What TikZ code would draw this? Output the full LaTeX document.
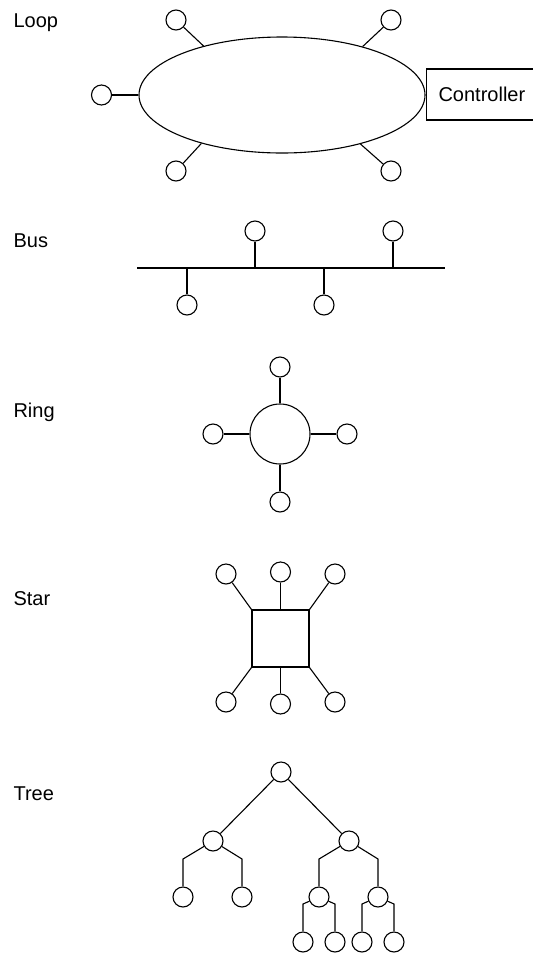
\documentclass[tikz,border=0pt]{standalone}
\usepackage{fontspec}
\setmainfont{Liberation Sans}
\usetikzlibrary{shapes.geometric}
\begin{document}
\begin{tikzpicture}[x=1pt,y=-1pt,
  every path/.style={line width=1.1pt},
  dev/.style={circle,draw,line width=1.1pt,minimum size=20pt,inner sep=0pt},
  lbl/.style={anchor=base west,inner sep=0pt,font=\fontsize{20}{24}\selectfont},
  hub/.style={draw,line width=1.1pt,inner sep=0pt}]
\useasboundingbox (0,0) rectangle (533,954);
% labels
\node[lbl] (tloop) at (13,27) {Loop};
\node[lbl] (tbus) at (13,247) {Bus};
\node[lbl] (tring) at (13,417) {Ring};
\node[lbl] (tstar) at (13,605) {Star};
\node[lbl] (ttree) at (13,800) {Tree};
% Loop
\node[hub,ellipse,minimum width=286pt,minimum height=116pt] (loop) at (282,95) {};
\node[hub,rectangle,anchor=west,minimum height=51pt,text width=100pt,inner xsep=12pt,align=left,font=\fontsize{20}{24}\selectfont] (ctrl) at (426,94.5) {Controller};
\node[dev] (l1) at (176,20) {};
\node[dev] (l2) at (391,20) {};
\node[dev] (l3) at (101.5,95) {};
\node[dev] (l4) at (176,171) {};
\node[dev] (l5) at (391,171) {};
\draw (l1) -- (loop.148.6);
\draw (l2) -- (loop.31.4);
\draw (l3) -- (loop.west);
\draw (l4) -- (loop.211.4);
\draw (l5) -- (loop.328.6);
% Bus
\coordinate (bA) at (137,268);
\coordinate (bB) at (445,268);
\draw (bA) -- (bB);
\node[dev] (b1) at (255,231) {};
\node[dev] (b2) at (393,231) {};
\node[dev] (b3) at (187,305) {};
\node[dev] (b4) at (324,305) {};
\coordinate (bj1) at (255,268);
\coordinate (bj2) at (393,268);
\coordinate (bj3) at (187,268);
\coordinate (bj4) at (324,268);
\draw (b1) -- (bj1);
\draw (b2) -- (bj2);
\draw (b3) -- (bj3);
\draw (b4) -- (bj4);
% Ring
\node[hub,circle,minimum size=60pt] (ring) at (280,434) {};
\node[dev] (r1) at (280,367) {};
\node[dev] (r2) at (280,502) {};
\node[dev] (r3) at (213,434) {};
\node[dev] (r4) at (347,434) {};
\draw (r1) -- (ring);
\draw (r2) -- (ring);
\draw (r3) -- (ring);
\draw (r4) -- (ring);
% Star
\node[hub,rectangle,minimum size=57pt] (star) at (280.5,638.5) {};
\node[dev] (s1) at (226,574) {};
\node[dev] (s2) at (280.5,572) {};
\node[dev] (s3) at (335,574) {};
\node[dev] (s4) at (226,702) {};
\node[dev] (s5) at (280.5,704) {};
\node[dev] (s6) at (335,702) {};
\draw (s1) -- (star.north west);
\draw (s2) -- (star.north);
\draw (s3) -- (star.north east);
\draw (s4) -- (star.south west);
\draw (s5) -- (star.south);
\draw (s6) -- (star.south east);
% Tree
\node[dev] (t0) at (281,772) {};
\node[dev] (tL) at (213,841) {};
\node[dev] (tR) at (349,841) {};
\node[dev] (tLL) at (183,897) {};
\node[dev] (tLR) at (242,897) {};
\node[dev] (tRL) at (319,897) {};
\node[dev] (tRR) at (378,897) {};
\node[dev] (tRL1) at (303,942) {};
\node[dev] (tRL2) at (335,942) {};
\node[dev] (tRR1) at (362,942) {};
\node[dev] (tRR2) at (394,942) {};
\draw (t0) -- (tL);
\draw (t0) -- (tR);
\coordinate (kLL) at (183,859);
\coordinate (kLR) at (242,859);
\coordinate (kRL) at (319,859);
\coordinate (kRR) at (378,859);
\coordinate (kRL1) at (303,904);
\coordinate (kRL2) at (335,904);
\coordinate (kRR1) at (362,904);
\coordinate (kRR2) at (394,904);
\draw (tL) -- (kLL) -- (tLL);
\draw (tL) -- (kLR) -- (tLR);
\draw (tR) -- (kRL) -- (tRL);
\draw (tR) -- (kRR) -- (tRR);
\draw (tRL) -- (kRL1) -- (tRL1);
\draw (tRL) -- (kRL2) -- (tRL2);
\draw (tRR) -- (kRR1) -- (tRR1);
\draw (tRR) -- (kRR2) -- (tRR2);
\end{tikzpicture}
\end{document}
